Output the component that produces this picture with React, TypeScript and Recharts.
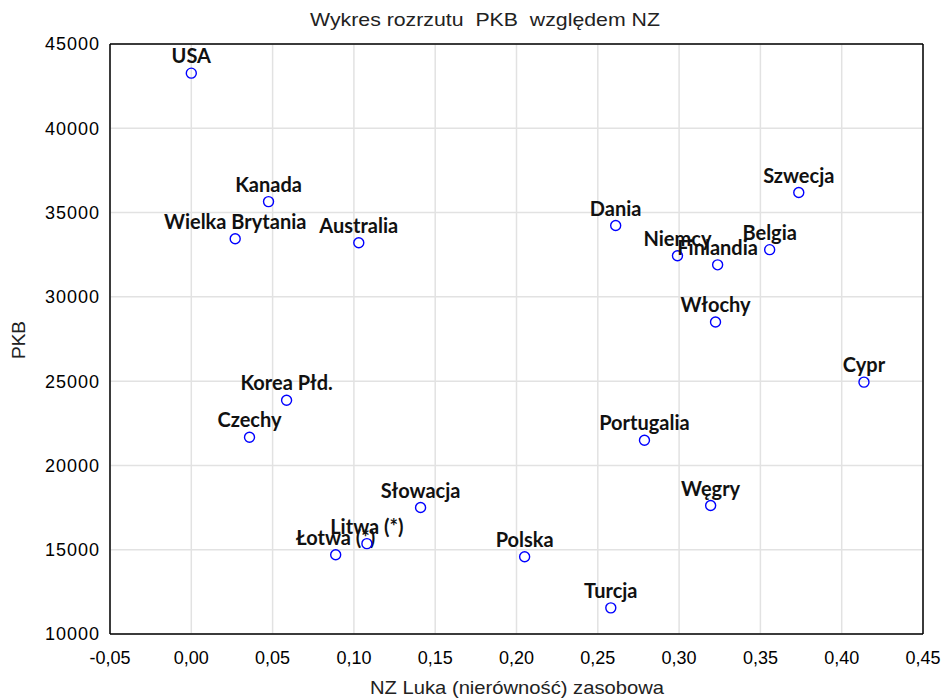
import React from 'react';
import { ScatterChart, Scatter, XAxis, YAxis, CartesianGrid, Label } from 'recharts';

// countries, NZ gap (x) and GDP per capita (y)
const countries = [
  'USA', 'Kanada', 'Wielka Brytania', 'Australia', 'Korea Płd.', 'Czechy',
  'Łotwa (*)', 'Litwa (*)', 'Słowacja', 'Polska', 'Turcja', 'Dania',
  'Szwecja', 'Niemcy', 'Finlandia', 'Belgia', 'Włochy', 'Cypr', 'Portugalia', 'Węgry',
];
const nzGap = [
  0.0, 0.0475, 0.027, 0.103, 0.0586, 0.0358,
  0.0888, 0.108, 0.141, 0.205, 0.258, 0.261,
  0.3736, 0.299, 0.3237, 0.3557, 0.3224, 0.4137, 0.2787, 0.3194,
];
const pkb = [
  43270, 35650, 33450, 33210, 23870, 21670,
  14700, 15360, 17500, 14580, 11550, 34230,
  36190, 32440, 31900, 32800, 28510, 24940, 21490, 17620,
];

const xTicks = [-0.05, 0, 0.05, 0.1, 0.15, 0.2, 0.25, 0.3, 0.35, 0.4, 0.45];
const yTicks = [10000, 15000, 20000, 25000, 30000, 35000, 40000, 45000];

const data = countries.map((name, i) => ({ name, x: nzGap[i], y: pkb[i] }));

// minor ticks: 5 per major step on both axes
const subdivide = (ticks: number[], n: number) => {
  const out: number[] = [];
  for (let i = 0; i < ticks.length - 1; i++) {
    const step = (ticks[i + 1] - ticks[i]) / n;
    for (let k = 0; k < n; k++) out.push(ticks[i] + k * step);
  }
  out.push(ticks[ticks.length - 1]);
  return out;
};
const xMinor = subdivide(xTicks, 5);
const yMinor = subdivide(yTicks, 5);

const fmtX = (v: number) => v.toFixed(2).replace('.', ',');
const noLabel = () => '';

const tickFont = { fontFamily: 'Liberation Sans, Arial, sans-serif', fontSize: 18, fill: '#000' };

const renderPoint = (props: any) => {
  const { cx, cy, payload } = props;
  return (
    <g>
      <circle cx={cx} cy={cy} r={5} fill="none" stroke="#0000ff" strokeWidth={1.4} />
      <text
        x={cx}
        y={cy - 10}
        textAnchor="middle"
        fontFamily="Lato, 'Open Sans', sans-serif"
        fontWeight={700}
        fontSize={20}
        fill="#111"
      >
        {payload.name}
      </text>
    </g>
  );
};

export default function App() {
  const domainX: [number, number] = [-0.05, 0.45];
  const domainY: [number, number] = [10000, 45000];
  return (
    <div style={{ position: 'absolute', left: 0, top: 0, width: 941, height: 699, background: '#fff' }}>
      <ScatterChart width={941} height={699} margin={{ top: 44, right: 18, bottom: 64, left: 109 }}>
        <CartesianGrid xAxisId="main" yAxisId="main" stroke="#e2e2e2" strokeWidth={1.5} />
        <XAxis
          xAxisId="main"
          type="number"
          dataKey="x"
          domain={domainX}
          ticks={xTicks}
          interval={0}
          height={1}
          tickSize={0}
          tickMargin={17}
          tickFormatter={fmtX}
          tick={tickFont}
          axisLine={{ stroke: '#000', strokeWidth: 1.5 }}
        >
          <Label
            content={() => (
              <text x={517} y={694} textAnchor="middle" fontFamily="Liberation Sans, Arial, sans-serif" fontSize={19} fill="#222" textLength={294} lengthAdjust="spacingAndGlyphs">
                NZ Luka (nierówność) zasobowa
              </text>
            )}
          />
        </XAxis>
        <XAxis
          xAxisId="bottomMinor"
          type="number"
          dataKey="x"
          domain={domainX}
          ticks={xMinor}
          interval={0}
          height={1}
          mirror
          tickSize={5}
          tickFormatter={noLabel}
          axisLine={false}
          tickLine={{ stroke: '#000' }}
        />
        <XAxis
          xAxisId="topMinor"
          orientation="top"
          type="number"
          dataKey="x"
          domain={domainX}
          ticks={xMinor}
          interval={0}
          height={1}
          mirror
          tickSize={5}
          tickFormatter={noLabel}
          axisLine={{ stroke: '#000', strokeWidth: 1.5 }}
          tickLine={{ stroke: '#000' }}
        >
          <Label
            content={() => (
              <text x={485} y={26} textAnchor="middle" xmlSpace="preserve" fontFamily="Liberation Sans, Arial, sans-serif" fontSize={19} fill="#222" textLength={350} lengthAdjust="spacingAndGlyphs">
                {'Wykres rozrzutu\u00a0 PKB\u00a0 względem NZ'}
              </text>
            )}
          />
        </XAxis>
        <YAxis
          yAxisId="main"
          type="number"
          dataKey="y"
          domain={domainY}
          ticks={yTicks}
          interval={0}
          width={1}
          tickSize={0}
          tickMargin={10}
          tick={{ ...tickFont, letterSpacing: 1 }}
          axisLine={{ stroke: '#000', strokeWidth: 1.5 }}
        >
          <Label
            content={() => (
              <text x={25} y={340} transform="rotate(-90 25 340)" textAnchor="middle" fontFamily="Liberation Sans, Arial, sans-serif" fontSize={19} fill="#222">
                PKB
              </text>
            )}
          />
        </YAxis>
        <YAxis
          yAxisId="leftMinor"
          type="number"
          dataKey="y"
          domain={domainY}
          ticks={yMinor}
          interval={0}
          width={1}
          mirror
          tickSize={5}
          tickFormatter={noLabel}
          axisLine={false}
          tickLine={{ stroke: '#000' }}
        />
        <YAxis
          yAxisId="rightMinor"
          orientation="right"
          type="number"
          dataKey="y"
          domain={domainY}
          ticks={yMinor}
          interval={0}
          width={1}
          mirror
          tickSize={5}
          tickFormatter={noLabel}
          axisLine={{ stroke: '#000', strokeWidth: 1.5 }}
          tickLine={{ stroke: '#000' }}
        />
        <Scatter
          xAxisId="main"
          yAxisId="main"
          data={data}
          shape={renderPoint}
          isAnimationActive={false}
        />
      </ScatterChart>
    </div>
  );
}
